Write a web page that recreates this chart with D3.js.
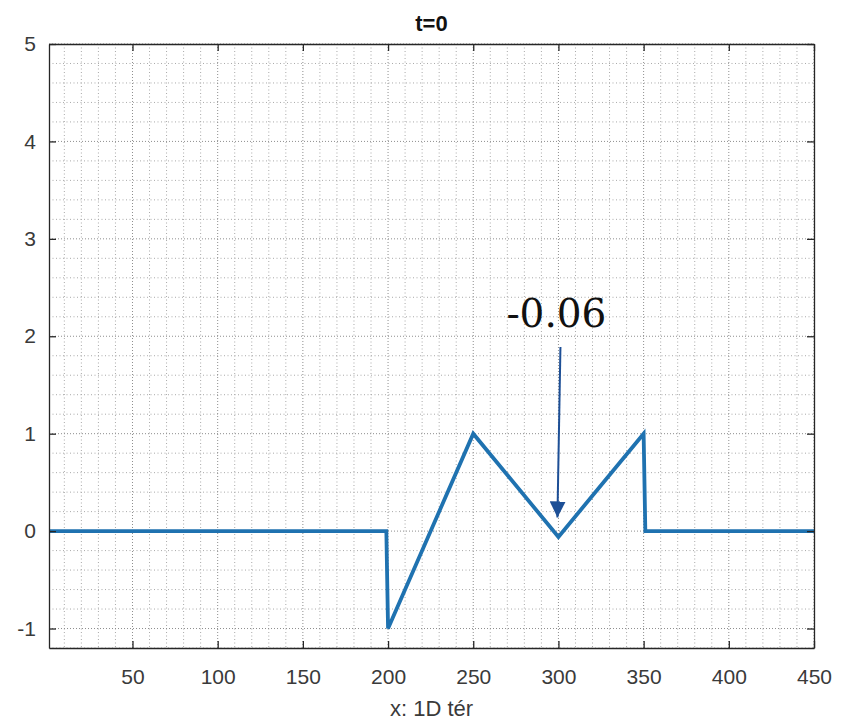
<!DOCTYPE html>
<html>
<head>
<meta charset="utf-8">
<script src="https://cdn.jsdelivr.net/npm/d3@7"></script>
<style>
  body { margin: 0; background: #fff; }
  svg { display: block; }
</style>
</head>
<body>
<svg class="chart"></svg>
<script>
// breakpoints of the wave profile at t=0
const waveX = [1, 199, 200, 250, 300, 350, 351, 450]
const waveY = [0, 0, -1, 1, -0.06, 1, 0, 0]

const xTicks = [50, 100, 150, 200, 250, 300, 350, 400, 450]
const yTicks = [-1, 0, 1, 2, 3, 4, 5]
const xDomain = [1, 450]
const yDomain = [-1.2, 5]

const titleText = 't=0'
const xLabelText = 'x: 1D tér'
const minLabel = '-0.06'
const minAt = 300

const width = 850
const height = 721
const margin = { left: 49, top: 44, right: 36, bottom: 73 }

const svg = d3.select('.chart').attr('width', width).attr('height', height)

const xSc = d3
  .scaleLinear()
  .domain(xDomain)
  .range([margin.left, width - margin.right])

const ySc = d3
  .scaleLinear()
  .domain(yDomain)
  .range([height - margin.bottom, margin.top])

const x0 = xSc.range()[0], x1 = xSc.range()[1]
const y0 = ySc.range()[1], y1 = ySc.range()[0]

// minor grid: every 10 in x, every 0.2 in y
const xMinor = d3.range(10, xDomain[1] + 0.1, 10).filter(v => v % 50 !== 0)
const yMinor = d3.range(-12, 51, 2).map(v => v / 10).filter(v => Math.abs(v - Math.round(v)) > 1e-6)

const grid = svg.append('g')

function gridLinesX(data, color, dash) {
  grid
    .append('g')
    .selectAll('line')
    .data(data)
    .enter()
    .append('line')
    .attr('x1', d => xSc(d)).attr('x2', d => xSc(d))
    .attr('y1', y0).attr('y2', y1)
    .attr('stroke', color)
    .attr('stroke-width', 1)
    .attr('stroke-dasharray', dash)
}

function gridLinesY(data, color, dash) {
  grid
    .append('g')
    .selectAll('line')
    .data(data)
    .enter()
    .append('line')
    .attr('y1', d => ySc(d)).attr('y2', d => ySc(d))
    .attr('x1', x0).attr('x2', x1)
    .attr('stroke', color)
    .attr('stroke-width', 1)
    .attr('stroke-dasharray', dash)
}

gridLinesX(xMinor, '#a9a9a9', '1,2.5')
gridLinesY(yMinor, '#a9a9a9', '1,2.5')
gridLinesX(xTicks, '#8e8e8e', '1,2')
gridLinesY(yTicks, '#8e8e8e', '1,2')

// the wave
const line = d3
  .line()
  .x(d => xSc(d[0]))
  .y(d => ySc(d[1]))

svg
  .append('path')
  .datum(d3.zip(waveX, waveY))
  .attr('d', line)
  .attr('fill', 'none')
  .attr('stroke', '#1f72b0')
  .attr('stroke-width', 3.8)
  .attr('stroke-linejoin', 'miter')

// axes with inward ticks, box on all four sides
const axisColor = '#262626'
const tickFont = '21px "Liberation Sans", Arial, sans-serif'

const xAxis = d3.axisBottom(xSc).tickValues(xTicks).tickSizeInner(-7).tickSizeOuter(0).tickPadding(21)
const yAxis = d3.axisLeft(ySc).tickValues(yTicks).tickFormat(d => String(d)).tickSizeInner(-7).tickSizeOuter(0).tickPadding(13)
const xAxisTop = d3.axisTop(xSc).tickValues(xTicks).tickSizeInner(-7).tickSizeOuter(0).tickFormat('')
const yAxisRight = d3.axisRight(ySc).tickValues(yTicks).tickSizeInner(-7).tickSizeOuter(0).tickFormat('')

function styleAxis(g) {
  g.selectAll('path, line').attr('stroke', axisColor).attr('stroke-width', 1.3)
  g.selectAll('text').attr('fill', '#3a3a3a').style('font', tickFont)
}

svg.append('g').attr('transform', `translate(0,${y1})`).call(xAxis).call(styleAxis)
svg.append('g').attr('transform', `translate(${x0},0)`).call(yAxis).call(styleAxis)
svg.append('g').attr('transform', `translate(0,${y0})`).call(xAxisTop).call(styleAxis)
svg.append('g').attr('transform', `translate(${x1},0)`).call(yAxisRight).call(styleAxis)

// title and x label
svg
  .append('text')
  .attr('x', (x0 + x1) / 2)
  .attr('y', 31)
  .attr('text-anchor', 'middle')
  .style('font', 'bold 22px "Liberation Sans", Arial, sans-serif')
  .attr('fill', '#111')
  .text(titleText)

svg
  .append('text')
  .attr('x', (x0 + x1) / 2)
  .attr('y', 716)
  .attr('text-anchor', 'middle')
  .style('font', '22px "Liberation Sans", Arial, sans-serif')
  .attr('fill', '#3a3a3a')
  .text(xLabelText)

// annotation arrow pointing at the local minimum
const minY = waveY[waveX.indexOf(minAt)]
const arrowColor = '#1d4f96'

svg
  .append('defs')
  .append('marker')
  .attr('id', 'head')
  .attr('viewBox', '0 0 10 10')
  .attr('refX', 10)
  .attr('refY', 5)
  .attr('markerWidth', 8)
  .attr('markerHeight', 8)
  .attr('markerUnits', 'strokeWidth')
  .attr('orient', 'auto')
  .append('path')
  .attr('d', 'M0,0 L10,5 L0,10 Z')
  .attr('fill', arrowColor)

svg
  .append('line')
  .attr('x1', xSc(minAt) + 2)
  .attr('y1', ySc(minY + 1.95))
  .attr('x2', xSc(minAt) - 1)
  .attr('y2', ySc(minY + 0.2))
  .attr('stroke', arrowColor)
  .attr('stroke-width', 2)
  .attr('marker-end', 'url(#head)')

svg
  .append('text')
  .attr('x', xSc(minAt) - 2)
  .attr('y', ySc(minY + 2.15))
  .attr('text-anchor', 'middle')
  .style('font', '39px "DejaVu Serif", "Liberation Serif", serif')
  .attr('fill', '#111')
  .text(minLabel)
</script>
</body>
</html>
